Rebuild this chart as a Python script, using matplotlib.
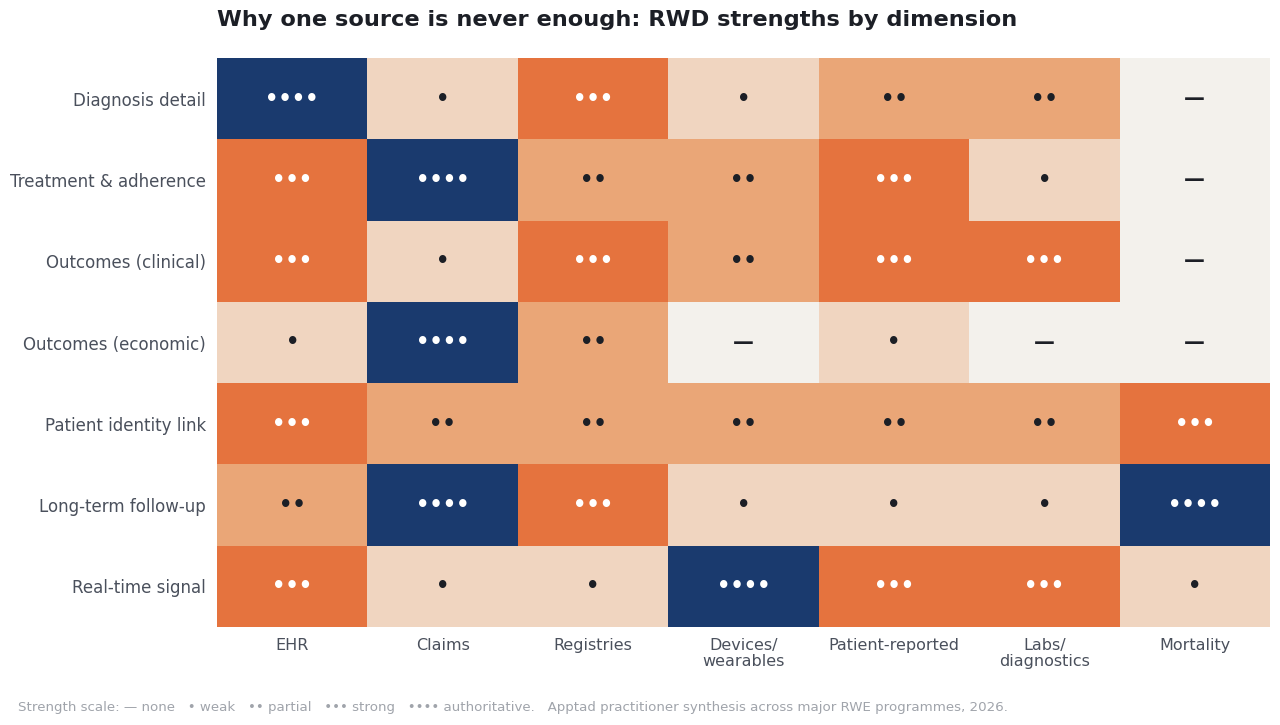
import matplotlib
matplotlib.use("Agg")
import matplotlib.pyplot as plt
from matplotlib.colors import ListedColormap, BoundaryNorm
import numpy as np

dimensions = ["Diagnosis detail", "Treatment & adherence", "Outcomes (clinical)",
              "Outcomes (economic)", "Patient identity link", "Long-term follow-up",
              "Real-time signal"]
sources = ["EHR", "Claims", "Registries", "Devices/\nwearables", "Patient-reported",
           "Labs/\ndiagnostics", "Mortality"]
strength = [
    [4, 1, 3, 1, 2, 2, 0],
    [3, 4, 2, 2, 3, 1, 0],
    [3, 1, 3, 2, 3, 3, 0],
    [1, 4, 2, 0, 1, 0, 0],
    [3, 2, 2, 2, 2, 2, 3],
    [2, 4, 3, 1, 1, 1, 4],
    [3, 1, 1, 4, 3, 3, 1],
]
symbols = ["\u2014", "\u2022", "\u2022\u2022", "\u2022\u2022\u2022", "\u2022\u2022\u2022\u2022"]
level_colors = ["#f3f1ec", "#f0d5c0", "#eaa677", "#e5733e", "#1a3a6e"]

plt.rcParams["font.family"] = ["DejaVu Sans"]
fig = plt.figure(figsize=(12.8, 7.25), dpi=100)
ax = fig.add_axes([217/1280, 1-627/725, (1270-217)/1280, (627-58)/725])

data = np.array(strength)
cmap = ListedColormap(level_colors)
norm = BoundaryNorm(np.arange(-0.5, 5.5, 1), cmap.N)
ax.pcolormesh(np.arange(len(sources)+1), np.arange(len(dimensions)+1), data,
              cmap=cmap, norm=norm, edgecolor="none")
ax.set_xlim(0, len(sources))
ax.set_ylim(len(dimensions), 0)

for i in range(len(dimensions)):
    for j in range(len(sources)):
        v = strength[i][j]
        col = "white" if v >= 3 else "#1c1f26"
        ax.text(j+0.5, i+0.5, symbols[v], ha="center", va="center",
                fontsize=15, color=col, fontweight="bold")

ax.set_xticks(np.arange(len(sources))+0.5)
ax.set_xticklabels(sources, fontsize=11.5, color="#4a505c", linespacing=1.05)
ax.set_yticks(np.arange(len(dimensions))+0.5)
ax.set_yticklabels(dimensions, fontsize=12, color="#4a505c")
ax.tick_params(length=0, pad=8)
for s in ax.spines.values():
    s.set_visible(False)

fig.text(217/1280, 1-20/725, "Why one source is never enough: RWD strengths by dimension",
         ha="left", va="center", fontsize=16.2, fontweight="bold", color="#1c1f26")
fig.text(18/1280, 1-707/725,
         "Strength scale: \u2014 none   \u2022 weak   \u2022\u2022 partial   \u2022\u2022\u2022 strong   "
         "\u2022\u2022\u2022\u2022 authoritative.   Apptad practitioner synthesis across major RWE programmes, 2026.",
         ha="left", va="center", fontsize=9.6, color="#a0a4ab")

fig.savefig("out.png", dpi=100, facecolor="white")
